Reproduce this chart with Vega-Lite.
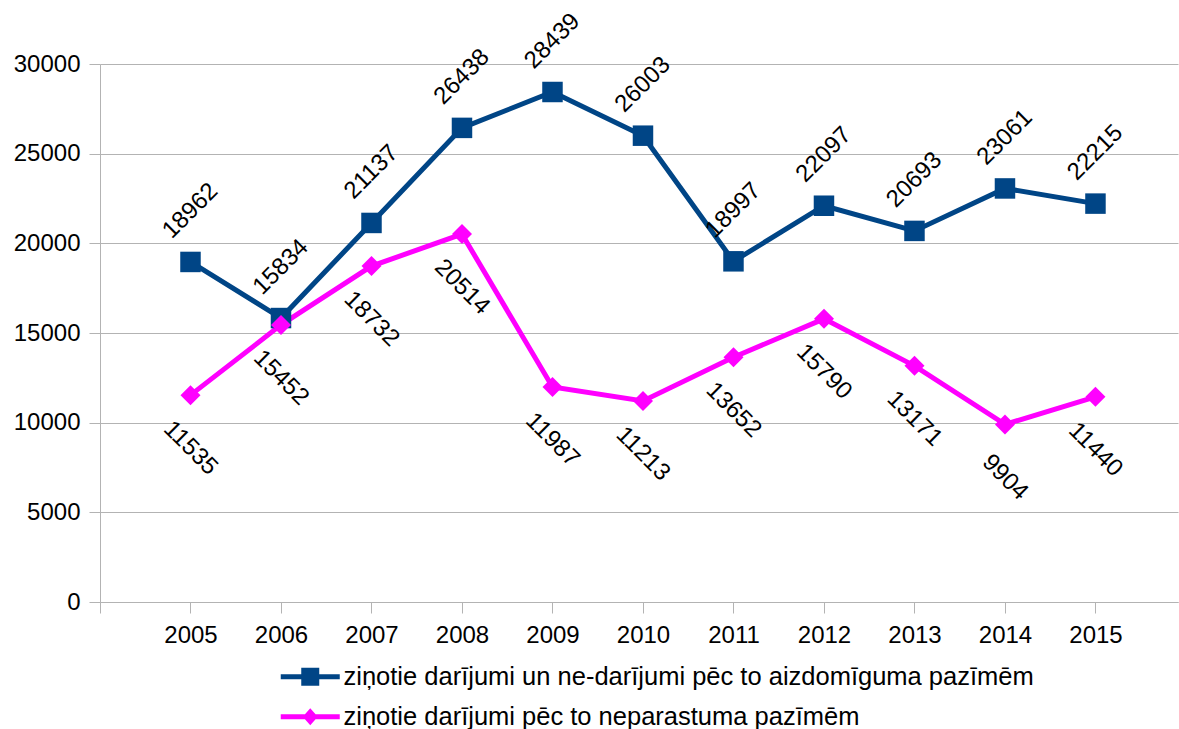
{
  "$schema": "https://vega.github.io/schema/vega-lite/v6.json",
  "width": 1078,
  "height": 538,
  "autosize": {"type": "none"},
  "padding": {"left": 100, "top": 64, "right": 1, "bottom": 127},
  "background": "white",
  "config": {
    "view": {"stroke": null},
    "font": "Liberation Sans",
    "axis": {"labelFont": "Liberation Sans", "labelFontSize": 24, "labelColor": "black", "domainColor": "#b3b3b3", "tickColor": "#b3b3b3", "gridColor": "#b3b3b3", "tickSize": 11, "domainWidth": 1, "tickWidth": 1}
  },
  "data": {
    "values": [
      {"year": 2005, "series": "ziņotie darījumi un ne-darījumi pēc to aizdomīguma pazīmēm", "value": 18962},
      {"year": 2006, "series": "ziņotie darījumi un ne-darījumi pēc to aizdomīguma pazīmēm", "value": 15834},
      {"year": 2007, "series": "ziņotie darījumi un ne-darījumi pēc to aizdomīguma pazīmēm", "value": 21137},
      {"year": 2008, "series": "ziņotie darījumi un ne-darījumi pēc to aizdomīguma pazīmēm", "value": 26438},
      {"year": 2009, "series": "ziņotie darījumi un ne-darījumi pēc to aizdomīguma pazīmēm", "value": 28439},
      {"year": 2010, "series": "ziņotie darījumi un ne-darījumi pēc to aizdomīguma pazīmēm", "value": 26003},
      {"year": 2011, "series": "ziņotie darījumi un ne-darījumi pēc to aizdomīguma pazīmēm", "value": 18997},
      {"year": 2012, "series": "ziņotie darījumi un ne-darījumi pēc to aizdomīguma pazīmēm", "value": 22097},
      {"year": 2013, "series": "ziņotie darījumi un ne-darījumi pēc to aizdomīguma pazīmēm", "value": 20693},
      {"year": 2014, "series": "ziņotie darījumi un ne-darījumi pēc to aizdomīguma pazīmēm", "value": 23061},
      {"year": 2015, "series": "ziņotie darījumi un ne-darījumi pēc to aizdomīguma pazīmēm", "value": 22215},
      {"year": 2005, "series": "ziņotie darījumi pēc to neparastuma pazīmēm", "value": 11535},
      {"year": 2006, "series": "ziņotie darījumi pēc to neparastuma pazīmēm", "value": 15452},
      {"year": 2007, "series": "ziņotie darījumi pēc to neparastuma pazīmēm", "value": 18732},
      {"year": 2008, "series": "ziņotie darījumi pēc to neparastuma pazīmēm", "value": 20514},
      {"year": 2009, "series": "ziņotie darījumi pēc to neparastuma pazīmēm", "value": 11987},
      {"year": 2010, "series": "ziņotie darījumi pēc to neparastuma pazīmēm", "value": 11213},
      {"year": 2011, "series": "ziņotie darījumi pēc to neparastuma pazīmēm", "value": 13652},
      {"year": 2012, "series": "ziņotie darījumi pēc to neparastuma pazīmēm", "value": 15790},
      {"year": 2013, "series": "ziņotie darījumi pēc to neparastuma pazīmēm", "value": 13171},
      {"year": 2014, "series": "ziņotie darījumi pēc to neparastuma pazīmēm", "value": 9904},
      {"year": 2015, "series": "ziņotie darījumi pēc to neparastuma pazīmēm", "value": 11440}
    ]
  },
  "encoding": {
    "x": {
      "field": "year", "type": "quantitative",
      "scale": {"domain": [2004, 2015.912], "nice": false, "zero": false},
      "axis": {"title": null, "values": [2004, 2005, 2006, 2007, 2008, 2009, 2010, 2011, 2012, 2013, 2014, 2015], "labelExpr": "datum.value == 2004 ? '' : datum.value", "grid": false, "labelPadding": 10, "labelFlush": false, "labelOverlap": false}
    },
    "y": {
      "field": "value", "type": "quantitative",
      "scale": {"domain": [0, 30000], "nice": false},
      "axis": {"title": null, "values": [0, 5000, 10000, 15000, 20000, 25000, 30000], "format": "d", "grid": true, "labelPadding": 9}
    },
    "color": {
      "field": "series", "type": "nominal",
      "scale": {"domain": ["ziņotie darījumi un ne-darījumi pēc to aizdomīguma pazīmēm", "ziņotie darījumi pēc to neparastuma pazīmēm"], "range": ["#004586", "#ff00ff"]},
      "legend": null
    }
  },
  "layer": [
    {
      "mark": {"type": "point", "filled": true, "size": 400, "opacity": 0},
      "encoding": {
        "color": {
          "field": "series", "type": "nominal",
          "legend": {
            "title": null, "orient": "none", "legendX": 197.5, "legendY": 600, "direction": "vertical",
            "padding": 0, "symbolSize": 400, "labelOffset": 20.5, "rowPadding": 13,
            "labelFont": "Liberation Sans", "labelFontSize": 25.5, "labelColor": "black", "labelLimit": 1000,
            "symbolStrokeWidth": 0, "symbolOpacity": 1
          }
        },
        "shape": {
          "field": "series", "type": "nominal",
          "scale": {"domain": ["ziņotie darījumi un ne-darījumi pēc to aizdomīguma pazīmēm", "ziņotie darījumi pēc to neparastuma pazīmēm"], "range": ["M-2.95,-0.25H2.95V0.25H-2.95ZM-0.9,-0.9H0.9V0.9H-0.9Z", "M-2.95,-0.25H2.95V0.25H-2.95ZM0,-0.85L0.75,0L0,0.85L-0.75,0Z"]},
          "legend": {
            "title": null, "orient": "none", "legendX": 197.5, "legendY": 600, "direction": "vertical",
            "padding": 0, "symbolSize": 400, "labelOffset": 20.5, "rowPadding": 13,
            "labelFont": "Liberation Sans", "labelFontSize": 25.5, "labelColor": "black", "labelLimit": 1000,
            "symbolStrokeWidth": 0, "symbolOpacity": 1
          }
        }
      }
    },
    {
      "mark": {"type": "line", "strokeWidth": 5}
    },
    {
      "transform": [{"filter": "datum.series == 'ziņotie darījumi un ne-darījumi pēc to aizdomīguma pazīmēm'"}],
      "mark": {"type": "point", "filled": true, "size": 420, "opacity": 1, "shape": "square"}
    },
    {
      "transform": [{"filter": "datum.series == 'ziņotie darījumi pēc to neparastuma pazīmēm'"}],
      "mark": {"type": "point", "filled": true, "size": 400, "opacity": 1, "shape": "diamond"}
    },
    {
      "transform": [{"filter": "datum.series == 'ziņotie darījumi un ne-darījumi pēc to aizdomīguma pazīmēm'"}],
      "mark": {"type": "text", "angle": 315, "align": "center", "baseline": "middle", "dx": 36, "dy": -36, "fontSize": 24, "font": "Liberation Sans", "color": "black"},
      "encoding": {"text": {"field": "value", "type": "quantitative", "format": "d"}, "color": {"value": "black"}}
    },
    {
      "transform": [{"filter": "datum.series == 'ziņotie darījumi pēc to neparastuma pazīmēm'"}],
      "mark": {"type": "text", "angle": 45, "align": "center", "baseline": "middle", "dx": 37.5, "dy": 37.5, "fontSize": 24, "font": "Liberation Sans", "color": "black"},
      "encoding": {"text": {"field": "value", "type": "quantitative", "format": "d"}, "color": {"value": "black"}}
    }
  ]
}
